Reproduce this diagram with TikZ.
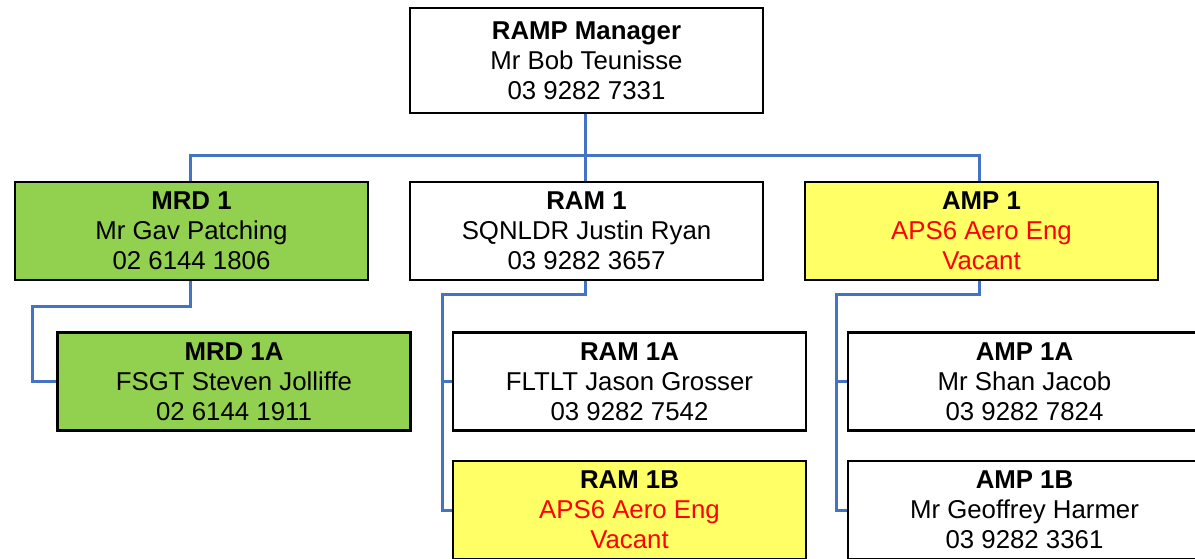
\documentclass[tikz,border=0pt]{standalone}
\usepackage{fontspec}
\setmainfont{Liberation Sans}
\usepackage{tikz}
\usetikzlibrary{positioning, calc}
\usepackage{xcolor}
\definecolor{linkblue}{HTML}{4472C4}
\definecolor{mrdgreen}{HTML}{92D050}
\definecolor{vacantyellow}{HTML}{FFFF66}
\definecolor{vacantred}{HTML}{FF0000}

\begin{document}
\begin{tikzpicture}[x=0.5pt, y=-0.5pt,
    post/.style={draw, line width=1.4pt, fill=white, rectangle, align=center,
      minimum width=176.5pt, minimum height=49pt, inner sep=0pt,
      font=\fontsize{12.9}{15}\selectfont},
    link/.style={linkblue, line width=1.5pt}]
    \useasboundingbox (0,0) rectangle (1195,558);

    % Manager
    \node[post, minimum height=52.5pt] (ramp) at (586.5, 60.5) {\textbf{RAMP Manager}\\Mr Bob Teunisse\\03 9282 7331};

    % Second level
    \node[post, fill=mrdgreen] (mrd1) at (191.5, 231) {\textbf{MRD 1}\\Mr Gav Patching\\02 6144 1806};
    \node[post] (ram1) at (586.5, 231) {\textbf{RAM 1}\\SQNLDR Justin Ryan\\03 9282 3657};
    \node[post, fill=vacantyellow] (amp1) at (981.5, 231) {\textbf{AMP 1}\\\textcolor{vacantred}{APS6 Aero Eng}\\\textcolor{vacantred}{Vacant}};

    % Third level
    \node[post, fill=mrdgreen] (mrd1a) at (234, 381.5) {\textbf{MRD 1A}\\FSGT Steven Jolliffe\\02 6144 1911};
    \node[post] (ram1a) at (629.5, 381.5) {\textbf{RAM 1A}\\FLTLT Jason Grosser\\03 9282 7542};
    \node[post] (amp1a) at (1024.5, 381.5) {\textbf{AMP 1A}\\Mr Shan Jacob\\03 9282 7824};
    \node[post, fill=vacantyellow] (ram1b) at (629.5, 510) {\textbf{RAM 1B}\\\textcolor{vacantred}{APS6 Aero Eng}\\\textcolor{vacantred}{Vacant}};
    \node[post] (amp1b) at (1024.5, 510) {\textbf{AMP 1B}\\Mr Geoffrey Harmer\\03 9282 3361};

    % Connections
    \coordinate (bus) at (585, 155);
    \coordinate (mrdbend) at (32, 306);
    \coordinate (rambend) at (442, 294);
    \coordinate (ampbend) at (836, 294);
    \draw[link] (ramp.south -| bus) -- (ram1.north -| bus);
    \draw[link] (mrd1.north -| 190,0) |- (bus) -| (amp1.north -| 979,0);
    \draw[link] (mrd1.south -| 190,0) |- (mrdbend) |- (mrd1a.west);
    \draw[link] (ram1.south -| bus) |- (rambend) |- (ram1b.west);
    \draw[link] (rambend) |- (ram1a.west);
    \draw[link] (amp1.south -| 979,0) |- (ampbend) |- (amp1b.west);
    \draw[link] (ampbend) |- (amp1a.west);
  \end{tikzpicture}
\end{document}
